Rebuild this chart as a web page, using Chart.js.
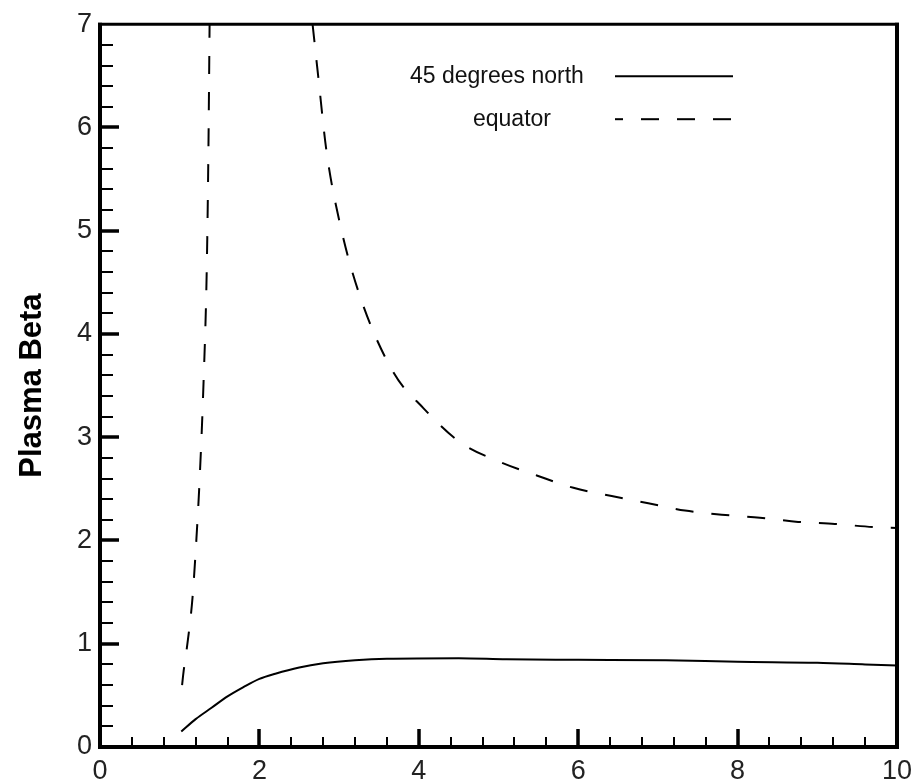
<!DOCTYPE html>
<html>
<head>
<meta charset="utf-8">
<script src="https://cdn.jsdelivr.net/npm/chart.js@4.4.1/dist/chart.umd.min.js"></script>
<style>
  html, body { margin: 0; padding: 0; background: #fff; }
  #wrap { width: 917px; height: 782px; }
</style>
</head>
<body>
<div id="wrap"><canvas id="beta-chart"></canvas></div>
<script>
// distance (x) vs plasma beta
const northX    = [1.02, 1.2, 1.4, 1.6, 1.8, 2.0, 2.2, 2.5, 2.8, 3.2, 3.6, 4.5, 5.1, 6.0, 7.1, 8.0, 9.0, 9.6, 10];
const northBeta = [0.15, 0.27, 0.38, 0.49, 0.58, 0.66, 0.71, 0.77, 0.81, 0.84, 0.855, 0.86, 0.85, 0.845, 0.84, 0.825, 0.815, 0.80, 0.79];

// equator curve has two branches, split by a null gap
const equatorX    = [1.03, 1.05, 1.09, 1.16, 1.21, 1.25, 1.30, 1.34, 1.36, 1.375, 2.0,
                     2.667, 2.74, 2.84, 3.01, 3.26, 3.68, 4.06, 4.52, 5.02, 5.48, 5.94, 6.42, 6.88, 7.34, 7.80, 8.28, 8.76, 9.22, 9.70, 10];
const equatorBeta = [0.6, 0.74, 0.96, 1.44, 2.02, 2.59, 3.55, 4.65, 5.76, 7.0, null,
                     7.0, 6.48, 5.78, 5.07, 4.37, 3.63, 3.28, 2.95, 2.76, 2.63, 2.51, 2.43, 2.36, 2.29, 2.25, 2.22, 2.18, 2.16, 2.13, 2.12];

const xMajorStep = 2;
const xMinorStep = 0.4;
const yMajorStep = 1;
const yMinorStep = 0.2;

const seriesLabels = ['45 degrees north', 'equator'];

const FONT = "'Liberation Sans', Arial, sans-serif";
const onStep = (v, step) => Math.abs(v / step - Math.round(v / step)) < 1e-6;
const toPoints = (xs, ys) => xs.map((x, i) => ({ x, y: ys[i] }));

// frame + inward tick marks (major long, minor short)
const frameAndTicks = {
  id: 'frameAndTicks',
  afterDatasetsDraw(chart) {
    const { ctx, chartArea: a, scales: { x, y } } = chart;
    ctx.save();
    ctx.strokeStyle = '#000';
    ctx.lineCap = 'butt';
    x.ticks.forEach(t => {
      if (t.value <= x.min || t.value >= x.max) return;
      const major = onStep(t.value, xMajorStep);
      const px = Math.round(x.getPixelForValue(t.value));
      ctx.lineWidth = major ? 3.5 : 2;
      ctx.beginPath();
      ctx.moveTo(px, a.bottom);
      ctx.lineTo(px, a.bottom - (major ? 18 : 10));
      ctx.stroke();
    });
    y.ticks.forEach(t => {
      if (t.value <= y.min || t.value >= y.max) return;
      const major = onStep(t.value, yMajorStep);
      const py = Math.round(y.getPixelForValue(t.value));
      ctx.lineWidth = major ? 3.5 : 2;
      ctx.beginPath();
      ctx.moveTo(a.left, py);
      ctx.lineTo(a.left + (major ? 19 : 13), py);
      ctx.stroke();
    });
    ctx.lineWidth = 4;
    ctx.beginPath();
    ctx.moveTo(a.left, a.top - 1.5);
    ctx.lineTo(a.left, a.bottom);
    ctx.lineTo(a.right, a.bottom);
    ctx.lineTo(a.right, a.top - 1.5);
    ctx.stroke();
    ctx.lineWidth = 3;
    ctx.beginPath();
    ctx.moveTo(a.left - 2, a.top);
    ctx.lineTo(a.right + 2, a.top);
    ctx.stroke();
    ctx.restore();
  }
};

// legend sitting inside the plot, top right
const insideLegend = {
  id: 'insideLegend',
  afterDraw(chart) {
    const { ctx, chartArea: a } = chart;
    const rows = [
      { text: seriesLabels[0], tx: 310, ty: 52, ds: chart.data.datasets[0] },
      { text: seriesLabels[1], tx: 373, ty: 95, ds: chart.data.datasets[1] },
    ];
    ctx.save();
    ctx.font = `23px ${FONT}`;
    ctx.fillStyle = '#111';
    ctx.textAlign = 'left';
    ctx.textBaseline = 'middle';
    rows.forEach(r => {
      const y = a.top + r.ty;
      ctx.fillText(r.text, a.left + r.tx, y);
      ctx.strokeStyle = r.ds.borderColor;
      ctx.lineWidth = r.ds.borderWidth;
      ctx.setLineDash(r.ds.borderDash || []);
      ctx.lineDashOffset = 10;
      ctx.beginPath();
      ctx.moveTo(a.left + 515, y);
      ctx.lineTo(a.left + 633, y);
      ctx.stroke();
    });
    ctx.restore();
  }
};

const ctx = document.getElementById('beta-chart').getContext('2d');
new Chart(ctx, {
  type: 'scatter',
  data: {
    datasets: [
      {
        label: seriesLabels[0],
        data: toPoints(northX, northBeta),
        showLine: true,
        borderColor: '#000',
        borderWidth: 2,
        pointRadius: 0,
        cubicInterpolationMode: 'monotone',
      },
      {
        label: seriesLabels[1],
        data: toPoints(equatorX, equatorBeta),
        showLine: true,
        spanGaps: false,
        borderColor: '#000',
        borderWidth: 2,
        borderDash: [18, 18],
        pointRadius: 0,
        cubicInterpolationMode: 'monotone',
      },
    ],
  },
  options: {
    responsive: true,
    maintainAspectRatio: false,
    animation: false,
    layout: { padding: { top: 20, right: 20, left: 0, bottom: 0 } },
    plugins: { legend: { display: false }, tooltip: { enabled: false } },
    scales: {
      x: {
        type: 'linear',
        min: 0,
        max: 10,
        grid: { display: false, drawTicks: false },
        border: { display: false },
        ticks: {
          stepSize: xMinorStep,
          autoSkip: false,
          maxRotation: 0,
          padding: 8,
          color: '#222',
          font: { family: FONT, size: 27 },
          callback: v => (onStep(v, xMajorStep) ? String(Math.round(v)) : ''),
        },
        afterFit: s => { s.height = 35; s.paddingLeft = 0; s.paddingRight = 0; },
      },
      y: {
        type: 'linear',
        min: 0,
        max: 7,
        grid: { display: false, drawTicks: false },
        border: { display: false },
        title: {
          display: true,
          text: 'Plasma Beta',
          color: '#000',
          font: { family: FONT, size: 31, weight: 'bold' },
          padding: { top: 14, bottom: 0 },
        },
        ticks: {
          stepSize: yMinorStep,
          autoSkip: false,
          padding: 8,
          color: '#222',
          font: { family: FONT, size: 27 },
          callback: v => (onStep(v, yMajorStep) ? String(Math.round(v)) : ''),
        },
        afterFit: s => { s.width = 100; },
      },
    },
  },
  plugins: [frameAndTicks, insideLegend],
});
</script>
</body>
</html>
